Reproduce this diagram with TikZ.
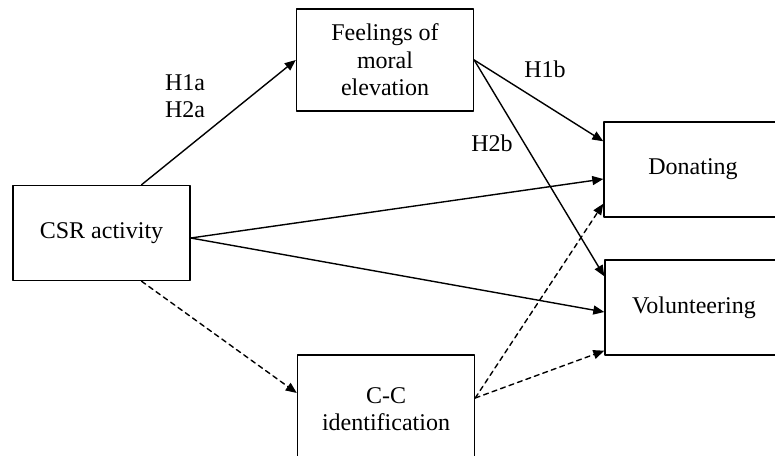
\documentclass[tikz,border=0pt]{standalone}
\usepackage{fontspec}
\setmainfont{Liberation Serif}
\usetikzlibrary{arrows.meta}

\begin{document}
\begin{tikzpicture}[x=0.5pt,y=-0.5pt,line cap=round,line join=round,
  >={Triangle[length=5.5pt,width=4.5pt]},
  font=\fontsize{12}{13.75}\selectfont,
  factor/.style={draw,line width=0.7pt,inner sep=0pt,minimum width=88.5pt,minimum height=47.5pt,align=center},
  link/.style={->,line width=0.7pt},
  dlink/.style={link,dash pattern=on 2.5pt off 2pt},
  hyp/.style={inner sep=0pt,align=center}]
\useasboundingbox (0,0) rectangle (775,455);
\clip (0,0) rectangle (775,455);
% constructs
\node[factor] (csr) at (101.5,233) {CSR activity};
\node[factor,minimum height=51pt] (feel) at (385,60) {Feelings of\\moral\\elevation};
\node[factor,minimum width=89pt] (don) at (693,169.5) {Donating};
\node[factor,minimum width=89pt] (vol) at (694,307.5) {Volunteering};
\node[factor,minimum height=54pt] (cc) at (386,409) {C-C\\identification};
% hypotheses
\node[hyp] (h1a) at (185,96) {H1a\\H2a};
\node[hyp] (h1b) at (545,69) {H1b};
\node[hyp] (h2b) at (492,143) {H2b};
% paths
\draw[link] ([xshift=20pt]csr.north) -- (feel.west);
\draw[link] (feel.east) -- ([yshift=-10pt]don.north west);
\draw[link] (feel.east) -- ([yshift=-8.5pt]vol.north west);
\draw[link] ([yshift=-2.5pt]csr.east) -- ([yshift=-4.75pt]don.west);
\draw[link] ([yshift=-2.5pt]csr.east) -- ([yshift=-2.25pt]vol.west);
%\draw[dlink] ...
\draw[dlink] ([xshift=20pt]csr.south) -- ([yshift=8pt]cc.west);
\draw[dlink] ([yshift=5.5pt]cc.east) -- ([yshift=7pt]don.south west);
\draw[dlink] ([yshift=5.5pt]cc.east) -- ([yshift=2.5pt]vol.south west);
\end{tikzpicture}
\end{document}
